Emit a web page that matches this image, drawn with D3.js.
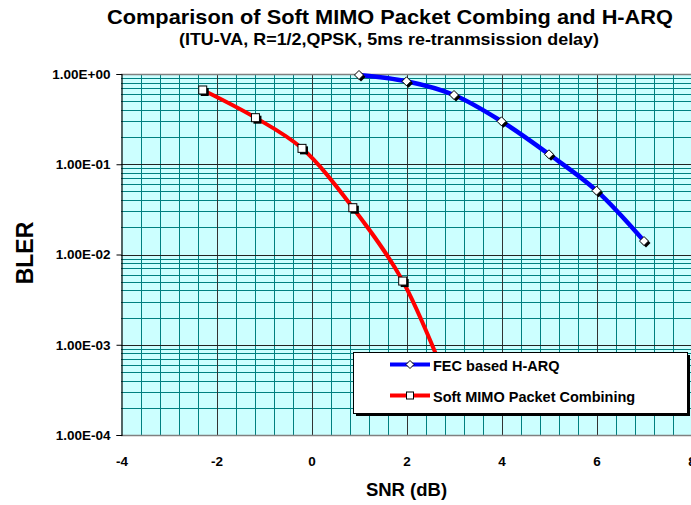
<!DOCTYPE html>
<html>
<head>
<meta charset="utf-8">
<script src="https://cdn.jsdelivr.net/npm/d3@7"></script>
<style>
  html, body { margin: 0; padding: 0; background: #ffffff; }
  svg { display: block; }
  text { font-family: "Liberation Sans", Arial, sans-serif; font-weight: bold; fill: #000; }
</style>
</head>
<body>
<svg id="chart" width="691" height="505"></svg>
<script>
// ---- data ----
const titleText = "Comparison of Soft MIMO Packet Combing and H-ARQ";
const subtitleText = "(ITU-VA, R=1/2,QPSK, 5ms re-tranmsission delay)";
const xLabel = "SNR (dB)";
const yLabel = "BLER";
const seriesNames = ["FEC based H-ARQ", "Soft MIMO Packet Combining"];

const harqSNR  = [1, 2, 3, 4, 5, 6, 7];
const harqBLER = [0.975, 0.83, 0.585, 0.299, 0.129, 0.051, 0.0141];

const softSNR  = [-2.29, -1.18, -0.2, 0.87, 1.92, 3.0];
const softBLER = [0.665, 0.328, 0.150, 0.033, 0.00508, 0.00025];

const xTicks = [-4, -2, 0, 2, 4, 6, 8];
const xTickLabels = ["-4", "-2", "0", "2", "4", "6", "8"];
const yTicks = [1, 0.1, 0.01, 0.001, 0.0001];
const yTickLabels = ["1.00E+00", "1.00E-01", "1.00E-02", "1.00E-03", "1.00E-04"];

// ---- layout ----
const svg = d3.select("#chart");
const L = 121, T = 74, R = 691.5, B = 435;

const x = d3.scaleLinear().domain([-4, 8]).range([L + 0.5, R]);
const y = d3.scaleLog().domain([1e-4, 1]).range([B, T]);

// background
svg.append("rect").attr("x", L).attr("y", T).attr("width", R - L).attr("height", B - T)
  .attr("fill", "#ccffff");

// minor grid
const xMinor = d3.range(-4, 8.0001, 0.4).filter(v => Math.abs(v / 2 - Math.round(v / 2)) > 1e-6);
const yMinor = [];
[-4, -3, -2, -1].forEach(e => { for (let m = 2; m <= 9; m++) yMinor.push(m * Math.pow(10, e)); });

const grid = svg.append("g").attr("shape-rendering", "crispEdges");
grid.selectAll(".vmin").data(xMinor).join("line")
  .attr("x1", d => Math.round(x(d)) + 0.5).attr("x2", d => Math.round(x(d)) + 0.5)
  .attr("y1", T).attr("y2", B).attr("stroke", "#008080").attr("stroke-width", 1);
grid.selectAll(".hmin").data(yMinor).join("line")
  .attr("y1", d => Math.round(y(d)) + 0.5).attr("y2", d => Math.round(y(d)) + 0.5)
  .attr("x1", L).attr("x2", R).attr("stroke", "#008080").attr("stroke-width", 1);
// major grid
grid.selectAll(".vmaj").data(xTicks.slice(1)).join("line")
  .attr("x1", d => Math.round(x(d)) + 0.5).attr("x2", d => Math.round(x(d)) + 0.5)
  .attr("y1", T).attr("y2", B).attr("stroke", "#333333").attr("stroke-width", 1);
grid.selectAll(".hmaj").data(yTicks).join("line")
  .attr("y1", d => Math.round(y(d)) + 0.5).attr("y2", d => Math.round(y(d)) + 0.5)
  .attr("x1", L).attr("x2", R).attr("stroke", "#222222").attr("stroke-width", 1);

// top border & bottom axis line
svg.append("line").attr("x1", L).attr("x2", R).attr("y1", T + 0.5).attr("y2", T + 0.5)
  .attr("stroke", "#808080").attr("stroke-width", 1.5);
svg.append("line").attr("x1", L).attr("x2", R).attr("y1", B + 0.5).attr("y2", B + 0.5)
  .attr("stroke", "#808080").attr("stroke-width", 1.5);

// y axis
const yAxis = d3.axisLeft(y).tickValues(yTicks).tickSize(5).tickPadding(6)
  .tickFormat((d, i) => yTickLabels[i]);
const gy = svg.append("g").attr("transform", `translate(${L + 0.5},0)`).call(yAxis);
gy.select(".domain").attr("stroke", "#000").attr("stroke-width", 1.2);
gy.selectAll(".tick line").attr("stroke", "#000");
gy.selectAll(".tick text").style("font-size", "13.5px").style("font-family", '"Liberation Sans", Arial, sans-serif')
  .style("font-weight", "bold").attr("fill", "#000");

// x axis labels
const xAxis = d3.axisBottom(x).tickValues(xTicks).tickSize(0).tickPadding(31)
  .tickFormat((d, i) => xTickLabels[i]);
const gx = svg.append("g").attr("transform", `translate(0,${B})`).call(xAxis);
gx.select(".domain").remove();
gx.selectAll(".tick text").style("font-size", "13.5px").style("font-family", '"Liberation Sans", Arial, sans-serif')
  .style("font-weight", "bold").attr("fill", "#000").attr("dy", "0");

// clip
svg.append("clipPath").attr("id", "plotclip").append("rect")
  .attr("x", L).attr("y", T - 8).attr("width", R - L + 10).attr("height", B - T + 8);

const line = d3.line().curve(d3.curveCatmullRom.alpha(0.5)).x(d => x(d[0])).y(d => y(d[1]));
const harq = harqSNR.map((v, i) => [v, harqBLER[i]]);
const soft = softSNR.map((v, i) => [v, softBLER[i]]);

const plot = svg.append("g").attr("clip-path", "url(#plotclip)");
plot.append("path").attr("d", line(soft)).attr("fill", "none").attr("stroke", "#ff0000")
  .attr("stroke-width", 4).attr("stroke-linejoin", "round");
plot.append("path").attr("d", line(harq)).attr("fill", "none").attr("stroke", "#0000ff")
  .attr("stroke-width", 4.5).attr("stroke-linejoin", "round");

function square(g, cx, cy, s) {
  g.append("rect").attr("x", cx - s / 2 + 2).attr("y", cy - s / 2 + 2).attr("width", s).attr("height", s).attr("fill", "#000");
  g.append("rect").attr("x", cx - s / 2).attr("y", cy - s / 2).attr("width", s).attr("height", s)
    .attr("fill", "#fff").attr("stroke", "#000").attr("stroke-width", 1);
}
function diamond(g, cx, cy, s) {
  const p = (ox, oy) => `M${cx + ox},${cy - s + oy}L${cx + s + ox},${cy + oy}L${cx + ox},${cy + s + oy}L${cx - s + ox},${cy + oy}Z`;
  g.append("path").attr("d", p(2, 2)).attr("fill", "#000");
  g.append("path").attr("d", p(0, 0)).attr("fill", "#fff").attr("stroke", "#000").attr("stroke-width", 1);
}
soft.forEach(d => square(plot, x(d[0]), y(d[1]), 8));
harq.forEach(d => diamond(plot, x(d[0]), y(d[1]), 4.5));

// legend
const lg = svg.append("g");
const lx = 353, ly = 352, lw = 334, lh = 61;
lg.append("rect").attr("x", lx + 3).attr("y", ly + 3).attr("width", lw).attr("height", lh).attr("fill", "#000");
lg.append("rect").attr("x", lx + 0.5).attr("y", ly + 0.5).attr("width", lw).attr("height", lh)
  .attr("fill", "#fff").attr("stroke", "#000").attr("stroke-width", 1);
const items = [
  { name: seriesNames[0], color: "#0000ff", cy: 364.5, mk: "d" },
  { name: seriesNames[1], color: "#ff0000", cy: 395.5, mk: "s" }
];
items.forEach(it => {
  lg.append("line").attr("x1", 390).attr("x2", 430).attr("y1", it.cy).attr("y2", it.cy)
    .attr("stroke", it.color).attr("stroke-width", 4);
  if (it.mk === "d") {
    lg.append("path").attr("d", `M410,${it.cy - 4}L414,${it.cy}L410,${it.cy + 4}L406,${it.cy}Z`)
      .attr("fill", "#fff").attr("stroke", "#000").attr("stroke-width", 1);
  } else {
    lg.append("rect").attr("x", 406.5).attr("y", it.cy - 3.5).attr("width", 7).attr("height", 7)
      .attr("fill", "#fff").attr("stroke", "#000").attr("stroke-width", 1);
  }
  lg.append("text").attr("x", 433).attr("y", it.cy + 6).style("font-size", "14.5px").text(it.name);
});

// titles
svg.append("text").attr("x", 390).attr("y", 24).attr("text-anchor", "middle")
  .style("font-size", "20.5px").attr("textLength", 566).attr("lengthAdjust", "spacingAndGlyphs").text(titleText);
svg.append("text").attr("x", 389).attr("y", 45).attr("text-anchor", "middle")
  .style("font-size", "17px").attr("textLength", 420).attr("lengthAdjust", "spacingAndGlyphs").text(subtitleText);
svg.append("text").attr("x", 406.5).attr("y", 496).attr("text-anchor", "middle")
  .style("font-size", "18.5px").text(xLabel);
svg.append("text").attr("transform", "translate(32.5,253) rotate(-90)").attr("text-anchor", "middle")
  .style("font-size", "23px").text(yLabel);
</script>
</body>
</html>
